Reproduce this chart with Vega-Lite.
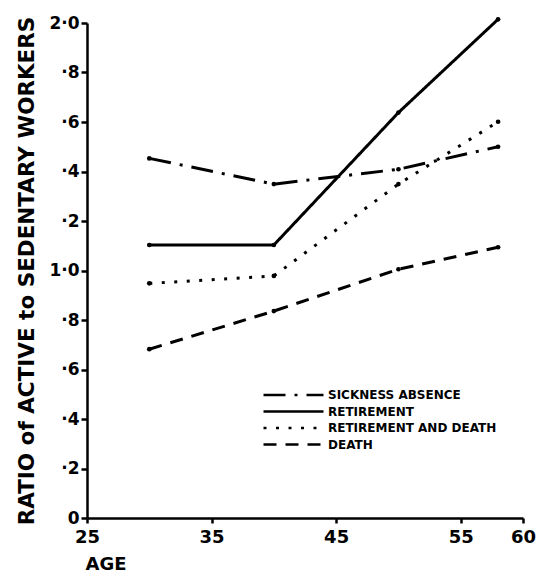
{
  "$schema": "https://vega.github.io/schema/vega-lite/v6.json",
  "width": 436,
  "height": 495,
  "autosize": {"type": "none"},
  "padding": {"left": 87, "top": 23, "right": 24, "bottom": 55},
  "background": "white",
  "config": {
    "view": {"stroke": null},
    "font": "DejaVu Sans",
    "axis": {
      "grid": false,
      "domainColor": "black",
      "domainWidth": 2.5,
      "tickColor": "black",
      "tickWidth": 2.5,
      "labelColor": "black",
      "labelFont": "DejaVu Sans",
      "labelFontWeight": "bold",
      "titleColor": "black",
      "titleFont": "DejaVu Sans",
      "titleFontWeight": "bold"
    }
  },
  "data": {
    "values": [
      {"series": "SICKNESS ABSENCE", "age": 30, "ratio": 1.453},
      {"series": "SICKNESS ABSENCE", "age": 40, "ratio": 1.349},
      {"series": "SICKNESS ABSENCE", "age": 50, "ratio": 1.409},
      {"series": "SICKNESS ABSENCE", "age": 58, "ratio": 1.5},
      {"series": "RETIREMENT", "age": 30, "ratio": 1.103},
      {"series": "RETIREMENT", "age": 40, "ratio": 1.103},
      {"series": "RETIREMENT", "age": 50, "ratio": 1.638},
      {"series": "RETIREMENT", "age": 58, "ratio": 2.015},
      {"series": "RETIREMENT AND  DEATH", "age": 30, "ratio": 0.948},
      {"series": "RETIREMENT AND  DEATH", "age": 40, "ratio": 0.978},
      {"series": "RETIREMENT AND  DEATH", "age": 50, "ratio": 1.349},
      {"series": "RETIREMENT AND  DEATH", "age": 58, "ratio": 1.601},
      {"series": "DEATH", "age": 30, "ratio": 0.682},
      {"series": "DEATH", "age": 40, "ratio": 0.836},
      {"series": "DEATH", "age": 50, "ratio": 1.005},
      {"series": "DEATH", "age": 58, "ratio": 1.094}
    ]
  },
  "encoding": {
    "x": {
      "field": "age",
      "type": "quantitative",
      "scale": {"domain": [25, 60], "nice": false, "zero": false},
      "axis": {
        "title": "AGE",
        "values": [25, 35, 45, 55, 60],
        "tickSize": 5,
        "labelPadding": 5,
        "labelFontSize": 18,
        "labelFlush": false,
        "labelOverlap": false,
        "titleFontSize": 18,
        "titleAnchor": "start",
        "titleAlign": "left",
        "titleBaseline": "alphabetic",
        "titleX": -2,
        "titleY": 51
      }
    },
    "y": {
      "field": "ratio",
      "type": "quantitative",
      "scale": {"domain": [0, 2], "nice": false},
      "axis": {
        "title": "RATIO of ACTIVE to SEDENTARY WORKERS",
        "values": [0, 0.2, 0.4, 0.6, 0.8, 1, 1.2, 1.4, 1.6, 1.8, 2],
        "labelExpr": "datum.value < 0.01 ? '0' : abs(datum.value - 1) < 0.01 ? '1·0' : abs(datum.value - 2) < 0.01 ? '2·0' : '·' + (round(datum.value * 10) % 10)",
        "tickSize": 6,
        "labelPadding": 2,
        "labelFontSize": 17,
        "labelFlush": false,
        "labelOverlap": false,
        "titleFontSize": 21.5,
        "titleLimit": 0,
        "titleBaseline": "alphabetic",
        "titleX": -54
      }
    }
  },
  "layer": [
    {
      "mark": {"type": "line", "color": "black", "strokeWidth": 3, "strokeCap": "butt"},
      "encoding": {
        "strokeDash": {
          "field": "series",
          "type": "nominal",
          "scale": {
            "domain": ["SICKNESS ABSENCE", "RETIREMENT", "RETIREMENT AND  DEATH", "DEATH"],
            "range": [[22, 9, 3, 9], [1, 0], [3, 9.5], [13, 9]]
          },
          "legend": {
            "title": null,
            "orient": "none",
            "legendX": 175,
            "legendY": 364.5,
            "symbolType": "stroke",
            "symbolSize": 3600,
            "symbolStrokeWidth": 2.5,
            "symbolStrokeColor": "black",
            "labelFont": "DejaVu Sans",
            "labelFontWeight": "bold",
            "labelFontSize": 12,
            "labelColor": "black",
            "labelLimit": 0,
            "labelOffset": 3,
            "clipHeight": 15,
            "rowPadding": 1.5
          }
        }
      }
    },
    {
      "mark": {"type": "point", "filled": true, "color": "black", "size": 22, "opacity": 1},
      "encoding": {"detail": {"field": "series", "type": "nominal"}}
    }
  ]
}
